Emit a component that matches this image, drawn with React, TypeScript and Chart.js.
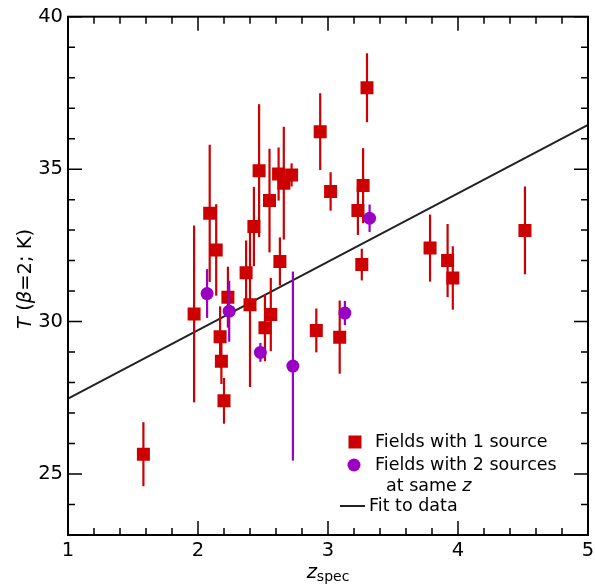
import React, { useEffect, useRef } from 'react';
import { Chart, registerables } from 'chart.js';
Chart.register(...registerables);

// Fields with 1 source
const redZ = [1.58, 1.97, 2.09, 2.14, 2.17, 2.18, 2.20, 2.23, 2.37, 2.40, 2.43, 2.47, 2.515, 2.55, 2.56, 2.62, 2.63, 2.66, 2.72, 2.91, 2.94, 3.02, 3.09, 3.23, 3.26, 3.27, 3.30, 3.785, 3.92, 3.96, 4.515];
const redT = [25.65, 30.25, 33.55, 32.35, 29.5, 28.7, 27.4, 30.8, 31.6, 30.55, 33.12, 34.95, 29.8, 33.97, 30.23, 34.84, 31.97, 34.54, 34.81, 29.71, 36.23, 34.27, 29.49, 33.64, 31.87, 34.46, 37.67, 32.41, 32.0, 31.43, 32.99];
const redErr = [1.05, 2.9, 2.25, 1.5, 1.0, 0.75, 0.75, 1.0, 1.06, 2.7, 1.3, 2.18, 1.1, 1.7, 1.2, 0.87, 0.79, 1.85, 0.38, 0.72, 1.26, 0.63, 1.2, 0.8, 0.52, 1.23, 1.13, 1.1, 1.2, 1.04, 1.44];

// Fields with 2 sources at same z
const purpleZ = [2.07, 2.24, 2.48, 2.73, 3.13, 3.32];
const purpleT = [30.92, 30.34, 28.99, 28.54, 30.28, 33.39];
const purpleErr = [0.8, 1.0, 0.31, 3.1, 0.4, 0.45];

// Fit to data
const fitZ = [1, 5];
const fitT = [27.47, 36.45];

const xMajorTicks = [1, 2, 3, 4, 5];
const yMajorTicks = [25, 30, 35, 40];
const legendLabels = ['Fields with 1 source', 'Fields with 2 sources', 'at same ', 'z', 'Fit to data'];

const RED = '#cc0000';
const PURPLE = '#9900c4';
const FONT = '"DejaVu Sans", sans-serif';

const errMap: (number[] | null)[] = [purpleErr, redErr, null];

const errorBarPlugin = {
  id: 'errorBars',
  beforeDatasetDraw(chart: any, args: any) {
    const errs = errMap[args.index];
    if (!errs) return;
    const ds = chart.data.datasets[args.index];
    const { ctx, scales } = chart;
    ctx.save();
    ctx.strokeStyle = ds.backgroundColor;
    ctx.lineWidth = 2.2;
    ds.data.forEach((p: any, i: number) => {
      const x = scales.x.getPixelForValue(p.x);
      ctx.beginPath();
      ctx.moveTo(x, scales.y.getPixelForValue(p.y - errs[i]));
      ctx.lineTo(x, scales.y.getPixelForValue(p.y + errs[i]));
      ctx.stroke();
    });
    ctx.restore();
  },
};

const frameAndTextPlugin = {
  id: 'frameText',
  afterDatasetsDraw(chart: any) {
    const { ctx, chartArea: a, scales } = chart;
    ctx.save();
    ctx.strokeStyle = '#000';
    // ticks
    ctx.lineWidth = 1.5;
    const major = 14, minor = 7;
    for (let v = 1; v <= 5.0001; v += 0.2) {
      const isMaj = Math.abs(v - Math.round(v)) < 1e-6;
      const len = isMaj ? major : minor;
      const x = scales.x.getPixelForValue(v);
      ctx.beginPath();
      ctx.moveTo(x, a.bottom); ctx.lineTo(x, a.bottom - len);
      ctx.moveTo(x, a.top); ctx.lineTo(x, a.top + len);
      ctx.stroke();
    }
    for (let v = 23; v <= 40; v += 1) {
      const len = v % 5 === 0 ? major : minor;
      const y = scales.y.getPixelForValue(v);
      ctx.beginPath();
      ctx.moveTo(a.left, y); ctx.lineTo(a.left + len, y);
      ctx.moveTo(a.right, y); ctx.lineTo(a.right - len, y);
      ctx.stroke();
    }
    // frame
    ctx.lineWidth = 2;
    ctx.strokeRect(a.left, a.top, a.right - a.left, a.bottom - a.top);

    // x tick labels
    ctx.fillStyle = '#000';
    ctx.font = '19.5px ' + FONT;
    ctx.textAlign = 'center';
    ctx.textBaseline = 'alphabetic';
    xMajorTicks.forEach((v) => {
      ctx.fillText(String(v), scales.x.getPixelForValue(v), a.bottom + 21);
    });

    // legend
    ctx.textBaseline = 'middle';
    ctx.textAlign = 'left';
    const lf = '17.5px ' + FONT;
    const lfi = 'italic 17.5px ' + FONT;
    const lx = 375;
    ctx.fillStyle = RED;
    ctx.fillRect(355 - 6.5, 442 - 6.5, 13, 13);
    ctx.fillStyle = PURPLE;
    ctx.beginPath(); ctx.arc(354, 465, 6.5, 0, Math.PI * 2); ctx.fill();
    ctx.strokeStyle = '#222';
    ctx.lineWidth = 2;
    ctx.beginPath(); ctx.moveTo(340, 506); ctx.lineTo(365, 506); ctx.stroke();
    ctx.fillStyle = '#000';
    ctx.font = lf;
    ctx.fillText(legendLabels[0], lx, 442);
    ctx.fillText(legendLabels[1], lx, 465);
    ctx.fillText(legendLabels[2], 386, 486);
    const w2 = ctx.measureText(legendLabels[2]).width;
    ctx.font = lfi;
    ctx.fillText(legendLabels[3], 386 + w2, 486);
    ctx.font = lf;
    ctx.fillText(legendLabels[4], 369, 506);

    // x title
    ctx.textBaseline = 'alphabetic';
    ctx.font = 'italic 19.5px ' + FONT;
    const zw = ctx.measureText('z').width;
    ctx.font = '14px ' + FONT;
    const sw = ctx.measureText('spec').width;
    const cx = (a.left + a.right) / 2;
    const x0 = cx - (zw + sw) / 2;
    ctx.font = 'italic 19.5px ' + FONT;
    ctx.fillText('z', x0, 578);
    ctx.font = '14px ' + FONT;
    ctx.fillText('spec', x0 + zw, 581);

    // y title
    const parts = [
      { t: 'T', f: 'italic 19.5px ' + FONT },
      { t: ' (', f: '19.5px ' + FONT },
      { t: '\u03b2', f: 'italic 19.5px ' + FONT },
      { t: '=2; K)', f: '19.5px ' + FONT },
    ];
    let total = 0;
    parts.forEach((p) => { ctx.font = p.f; total += ctx.measureText(p.t).width; });
    ctx.translate(31, (a.top + a.bottom) / 2 + 3);
    ctx.rotate(-Math.PI / 2);
    let px = -total / 2;
    parts.forEach((p) => { ctx.font = p.f; ctx.fillText(p.t, px, 0); px += ctx.measureText(p.t).width; });
    ctx.restore();
  },
};

export default function App() {
  const ref = useRef<HTMLCanvasElement>(null);
  useEffect(() => {
    if (!ref.current) return;
    const chart = new Chart(ref.current, {
      type: 'scatter',
      data: {
        datasets: [
          {
            label: 'Fields with 2 sources at same z',
            data: purpleZ.map((z, i) => ({ x: z, y: purpleT[i] })),
            backgroundColor: PURPLE,
            borderColor: PURPLE,
            borderWidth: 0,
            pointStyle: 'circle',
            pointRadius: 6.5,
            order: 0,
          },
          {
            label: 'Fields with 1 source',
            data: redZ.map((z, i) => ({ x: z, y: redT[i] })),
            backgroundColor: RED,
            borderColor: RED,
            borderWidth: 0,
            pointStyle: 'rect',
            pointRadius: 9.2,
            order: 1,
          },
          {
            type: 'line',
            label: 'Fit to data',
            data: fitZ.map((z, i) => ({ x: z, y: fitT[i] })),
            borderColor: '#222',
            borderWidth: 2,
            pointRadius: 0,
            showLine: true,
            fill: false,
            order: 2,
          } as any,
        ],
      },
      options: {
        responsive: false,
        animation: false,
        layout: { autoPadding: false, padding: { top: 15, right: 7, left: 0, bottom: 0 } },
        plugins: { legend: { display: false }, tooltip: { enabled: false } },
        scales: {
          x: {
            type: 'linear',
            min: 1,
            max: 5,
            grid: { display: false, drawTicks: false },
            border: { display: false },
            afterBuildTicks: (s: any) => { s.ticks = xMajorTicks.map((v) => ({ value: v })); },
            afterFit: (s: any) => { s.height = 50; },
            ticks: { display: false },
          },
          y: {
            type: 'linear',
            min: 23,
            max: 40,
            grid: { display: false, drawTicks: false },
            border: { display: false },
            afterBuildTicks: (s: any) => { s.ticks = yMajorTicks.map((v) => ({ value: v })); },
            afterFit: (s: any) => { s.width = 68; },
            ticks: { font: { family: FONT, size: 19.5 }, color: '#000', padding: 5 },
          },
        },
      },
      plugins: [errorBarPlugin, frameAndTextPlugin],
    });
    return () => chart.destroy();
  }, []);
  return (
    <div style={{ position: 'absolute', left: 0, top: 0, width: 595, height: 585, background: '#fff' }}>
      <canvas ref={ref} width={595} height={585} />
    </div>
  );
}
